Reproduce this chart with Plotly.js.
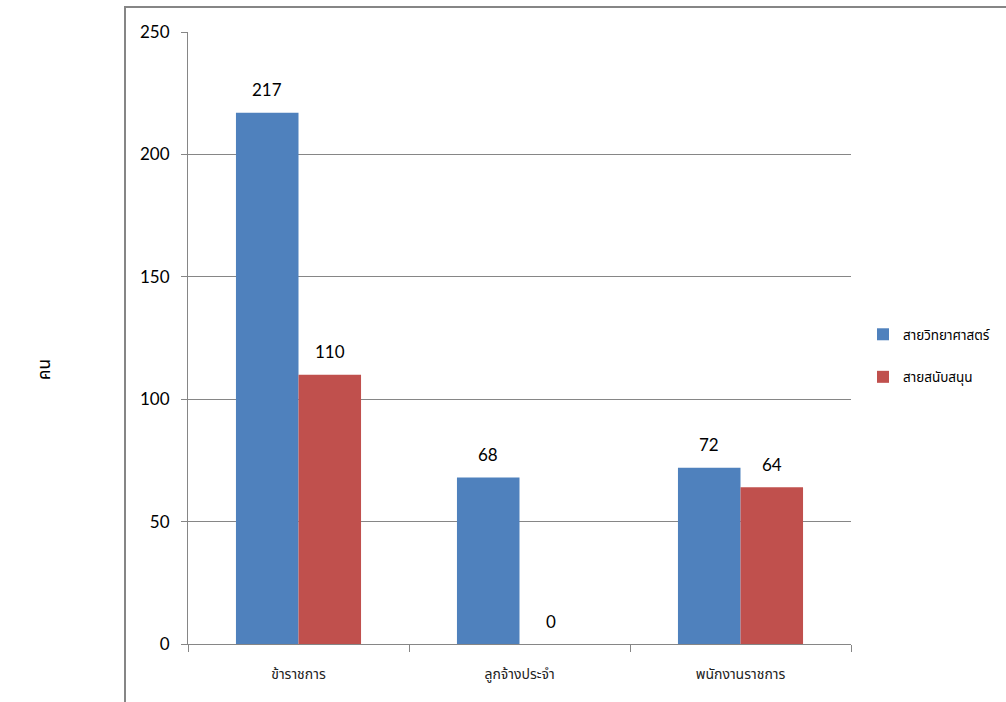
<!DOCTYPE html>
<html>
<head>
<meta charset="utf-8">
<script src="https://cdn.plot.ly/plotly-3.0.1.min.js"></script>
<style>
html,body{margin:0;padding:0;background:#fff;}
#chart{width:1006px;height:702px;}
</style>
</head>
<body>
<div id="chart"></div>
<script>
var categories = ["ข้าราชการ", "ลูกจ้างประจำ", "พนักงานราชการ"];
var seriesNames = ["สายวิทยาศาสตร์", "สายสนับสนุน"];
var scienceValues = [217, 68, 72];
var supportValues = [110, 0, 64];
var yTicks = [0, 50, 100, 150, 200, 250];
var yTitle = "คน";

var colors = ["#4F81BD", "#C0504D"];
var numFont = "Lato, 'Open Sans', sans-serif";
var thaiFont = "'Noto Sans Thai', 'Noto Sans', Tahoma, sans-serif";

var traces = [
  {type: "bar", name: seriesNames[0], x: categories, y: scienceValues,
   marker: {color: colors[0]}, legendgroup: "a", hoverinfo: "x+y"},
  {type: "bar", name: seriesNames[1], x: categories, y: supportValues,
   marker: {color: colors[1]}, legendgroup: "b", hoverinfo: "x+y"}
];

var plotW = 1006 - 188 - 155;
var barPx = plotW / 3 * (1 - 0.434) / 2;
var annotations = [];
[scienceValues, supportValues].forEach(function (vals, si) {
  vals.forEach(function (v, ci) {
    annotations.push({
      x: categories[ci], y: v, xref: "x", yref: "y",
      text: String(v), showarrow: false,
      xshift: (si === 0 ? -1 : 1) * barPx / 2,
      yshift: 23, yanchor: "middle",
      font: {family: numFont, size: 17, color: "#000"}
    });
  });
});
annotations.push({
  xref: "paper", yref: "paper",
  x: (45 - 188) / plotW, y: (644 - 370) / 612,
  text: yTitle, textangle: -90, showarrow: false,
  xanchor: "center", yanchor: "middle",
  font: {family: thaiFont, size: 17, color: "#000"}
});

var layout = {
  width: 1006, height: 702,
  margin: {l: 188, r: 155, t: 32, b: 58, pad: 0, autoexpand: false},
  paper_bgcolor: "#fff", plot_bgcolor: "#fff",
  barmode: "group", bargap: 0.434, bargroupgap: 0,
  showlegend: true,
  legend: {
    xref: "container", yref: "container",
    x: 863 / 1006, xanchor: "left",
    y: 1 - 356 / 702, yanchor: "middle",
    font: {family: thaiFont, size: 13.5, color: "#000"},
    traceorder: "grouped", tracegroupgap: 22,
    bgcolor: "rgba(0,0,0,0)", borderwidth: 0
  },
  xaxis: {
    type: "category", tickson: "boundaries",
    ticks: "outside", ticklen: 7, tickcolor: "#868686", tickwidth: 1,
    showline: true, linecolor: "#868686", linewidth: 1,
    showgrid: false, zeroline: false,
    tickfont: {family: thaiFont, size: 14, color: "#222"},
    ticklabelstandoff: 17, automargin: false
  },
  yaxis: {
    range: [0, 250], tickvals: yTicks, ticktext: yTicks.map(String),
    ticks: "outside", ticklen: 6, tickcolor: "#868686", tickwidth: 1,
    showline: true, linecolor: "#868686", linewidth: 1,
    showgrid: true, gridcolor: "#868686", gridwidth: 1,
    zeroline: false,
    tickfont: {family: numFont, size: 17, color: "#000"},
    ticklabelstandoff: 8, automargin: false
  },
  annotations: annotations,
  shapes: [{
    type: "rect", xref: "paper", yref: "paper",
    x0: (125 - 188) / plotW, x1: 1.5,
    y0: -0.3, y1: (644 - 7) / 612,
    line: {color: "#868686", width: 2}, fillcolor: "rgba(0,0,0,0)", layer: "below"
  }]
};

Plotly.newPlot("chart", traces, layout, {displayModeBar: false, staticPlot: true});
</script>
</body>
</html>
